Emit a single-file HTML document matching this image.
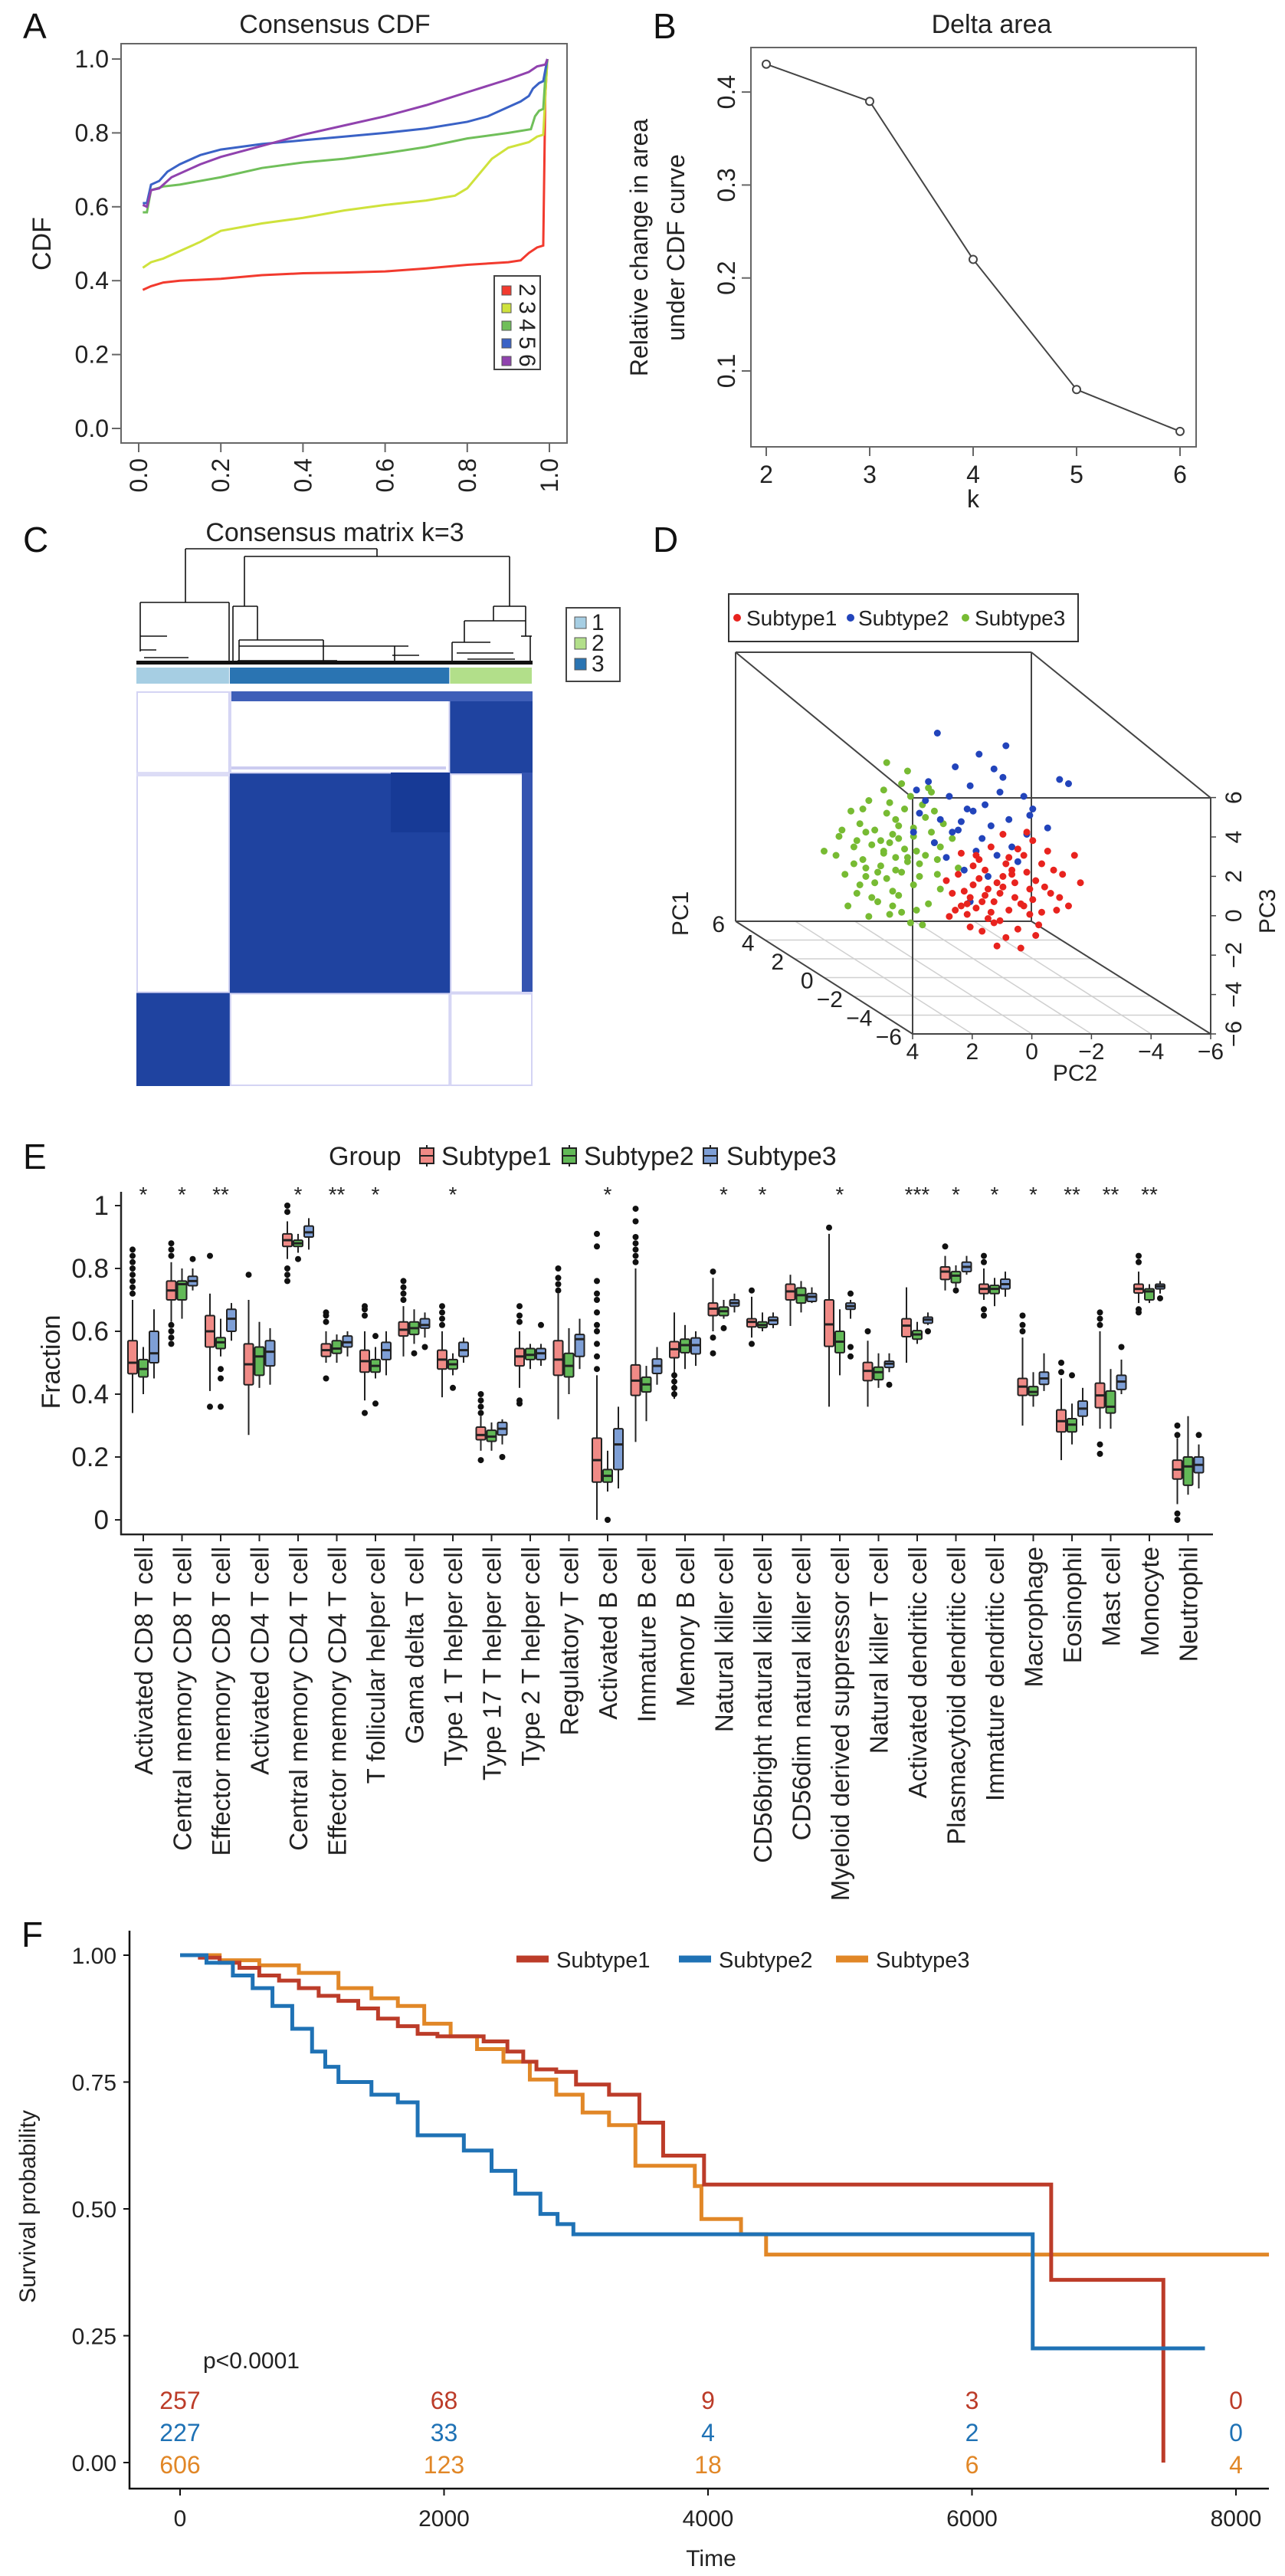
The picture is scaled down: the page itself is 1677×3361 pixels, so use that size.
<!DOCTYPE html>
<html><head><meta charset="utf-8">
<style>
html,body{margin:0;padding:0;background:#fff}
svg{display:block;font-family:"Liberation Sans",sans-serif}
</style></head>
<body>
<svg id="fig" width="1677" height="3361" viewBox="0 0 1677 3361" xmlns="http://www.w3.org/2000/svg">
<rect x="0" y="0" width="1677" height="3361" fill="#fff"/>
<g font-size="46" fill="#111">
<text x="30" y="50">A</text>
<text x="852" y="50">B</text>
<text x="30" y="720">C</text>
<text x="852" y="720">D</text>
<text x="30" y="1525">E</text>
<text x="28" y="2540">F</text>
</g>
<g id="pa">
<text x="437" y="43" font-size="34" text-anchor="middle" fill="#222">Consensus CDF</text>
<text transform="translate(66,318) rotate(-90)" font-size="34" text-anchor="middle" fill="#222">CDF</text>
<rect x="158" y="57" width="582" height="521" fill="none" stroke="#666" stroke-width="2"/>
</g>
<g id="pb">
<text x="1294" y="43" font-size="34" text-anchor="middle" fill="#222">Delta area</text>
<text transform="translate(845,323) rotate(-90)" font-size="32" text-anchor="middle" fill="#222">Relative change in area</text>
<text transform="translate(893,323) rotate(-90)" font-size="32" text-anchor="middle" fill="#222">under CDF curve</text>
<text x="1270" y="662" font-size="32" text-anchor="middle" fill="#222">k</text>
<rect x="980" y="62" width="581" height="521" fill="none" stroke="#666" stroke-width="2"/>
</g>
<g id="pc">
<text x="437" y="706" font-size="34" text-anchor="middle" fill="#222">Consensus matrix k=3</text>
<rect x="739" y="793" width="70" height="96" fill="#fff" stroke="#444" stroke-width="2"/>
</g>
<g id="pd">
<rect x="951" y="775" width="456" height="62" fill="#fff" stroke="#333" stroke-width="2"/>
<circle cx="962" cy="806" r="5" fill="#e8231e"/>
<text x="974" y="816" font-size="28" fill="#222">Subtype1</text>
<circle cx="1110" cy="806" r="5" fill="#2244bb"/>
<text x="1120" y="816" font-size="28" fill="#222">Subtype2</text>
<circle cx="1260" cy="806" r="5" fill="#77bb33"/>
<text x="1272" y="816" font-size="28" fill="#222">Subtype3</text>
<text x="1403" y="1410" font-size="30" text-anchor="middle" fill="#222">PC2</text>
<text transform="translate(898,1192) rotate(-90)" font-size="30" text-anchor="middle" fill="#222">PC1</text>
<text transform="translate(1664,1189) rotate(-90)" font-size="30" text-anchor="middle" fill="#222">PC3</text>
</g>
<g id="pe">
<text transform="translate(78,1777) rotate(-90)" font-size="34" text-anchor="middle" fill="#222">Fraction</text>
<text x="429" y="1520" font-size="34" fill="#222">Group</text>
</g>
<g id="pf">
<text transform="translate(46,2879) rotate(-90)" font-size="30" text-anchor="middle" fill="#222">Survival probability</text>
<text x="928" y="3348" font-size="30" text-anchor="middle" fill="#222">Time</text>
<text x="265" y="3090" font-size="30" fill="#222">p&lt;0.0001</text>
</g>
</svg>
<script>
// ---------- Panel A data ----------
const cdfK2X=[0.01,0.03,0.06,0.1,0.2,0.3,0.4,0.5,0.6,0.7,0.8,0.9,0.93,0.95,0.97,0.985,0.99,0.995];
const cdfK2Y=[0.375,0.385,0.395,0.40,0.405,0.415,0.42,0.422,0.425,0.433,0.443,0.45,0.455,0.475,0.49,0.495,0.9,1.0];
const cdfK3X=[0.01,0.03,0.06,0.1,0.15,0.2,0.3,0.4,0.5,0.6,0.7,0.77,0.8,0.83,0.86,0.9,0.95,0.97,0.985,0.99,0.995];
const cdfK3Y=[0.435,0.45,0.46,0.48,0.505,0.535,0.555,0.57,0.59,0.605,0.617,0.63,0.65,0.69,0.73,0.76,0.775,0.79,0.795,0.9,1.0];
const cdfK4X=[0.01,0.02,0.03,0.06,0.1,0.2,0.3,0.4,0.5,0.6,0.7,0.8,0.9,0.955,0.965,0.975,0.985,0.99,0.995];
const cdfK4Y=[0.585,0.585,0.645,0.655,0.66,0.68,0.705,0.72,0.73,0.745,0.762,0.785,0.80,0.81,0.845,0.86,0.865,0.95,1.0];
const cdfK5X=[0.01,0.02,0.03,0.05,0.07,0.1,0.15,0.2,0.3,0.4,0.5,0.6,0.7,0.8,0.85,0.9,0.93,0.95,0.96,0.975,0.985,0.995];
const cdfK5Y=[0.61,0.61,0.66,0.67,0.695,0.715,0.74,0.755,0.77,0.78,0.79,0.80,0.812,0.83,0.845,0.87,0.885,0.9,0.92,0.935,0.94,1.0];
const cdfK6X=[0.01,0.02,0.03,0.05,0.08,0.15,0.2,0.3,0.4,0.5,0.6,0.7,0.8,0.9,0.95,0.97,0.99,0.995];
const cdfK6Y=[0.605,0.6,0.645,0.65,0.68,0.715,0.735,0.765,0.795,0.82,0.845,0.875,0.91,0.945,0.965,0.98,0.985,1.0];
const aTicks=[0,0.2,0.4,0.6,0.8,1.0];
const aTickLabels=['0.0','0.2','0.4','0.6','0.8','1.0'];
const aLegendLabels=['2','3','4','5','6'];
// ---------- Panel B data ----------
const deltaK=[2,3,4,5,6];
const deltaArea=[0.43,0.39,0.22,0.08,0.035];
const bYTicks=[0.1,0.2,0.3,0.4];
const bYTickLabels=['0.1','0.2','0.3','0.4'];
// ---------- Panel C data ----------
const clusterSizes=[257,606,227];
const clusterColNames=['1','3','2'];
const clusterRowOrder=[2,1,0];
const cLegendLabels=['1','2','3'];
// ---------- Panel D data ----------
const s1Pc2=[-1.5,-2.3,-0.8,-3.1,-1.9,-0.5,-2.7,-1.2,-3.6,-2.0,-0.9,-2.5,-1.6,-3.3,-0.3,-2.1,-1.0,-2.9,-4.0,-1.4,-2.4,-0.6,-3.0,-1.8,-2.6,-1.1,-3.8,-0.2,-2.2,-1.7,-3.4,-0.7,-2.8,-1.3,-2.0,-4.4,-1.9,-0.4,-3.2,-2.4,-1.0,-2.7,-1.5,-3.7,-0.9,-2.2,-1.2,-3.0,-4.2,-1.6,-2.5,-0.1,-2.9,-1.8,-3.5,-1.4,-2.3,-0.8,-2.6,-4.6,-1.1,-3.3,-2.0,-0.6,-2.8,-1.7,-3.9,-2.1,-1.3,-3.1];
const s1Pc3=[-1.8,-0.9,-2.5,-1.4,-3.3,-1.1,-2.6,-0.4,-2.0,-1.2,-3.6,0.1,-2.9,-0.6,-2.0,-4.1,-1.6,-3.0,-1.1,-0.9,-2.2,-0.1,0.5,-1.5,-4.6,-2.7,-2.8,-3.1,-0.3,-2.4,-1.7,-1.9,-1.0,-3.8,0.8,-0.2,-2.0,-2.8,-3.5,-1.5,-0.7,-0.2,-3.2,-0.9,-2.2,-2.8,-1.3,-2.3,-2.6,0.2,-3.7,-1.4,-1.8,-4.5,0.0,-2.1,-1.1,-3.0,-2.5,-1.5,-0.2,-2.9,-1.7,-2.6,0.9,-3.4,-2.2,-0.6,-2.4,-4.0];
const s2Pc2=[-0.5,-1.4,0.3,-2.2,-0.9,0.8,-1.8,-0.2,-2.8,-1.1,0.5,-1.6,-0.7,-3.0,0.1,-2.0,-1.3,1.0,-0.4,-2.5,-1.0,0.6,-3.5,-1.9,-0.1,-2.3,-0.8,-1.5,0.9,-2.7,-0.3,-1.2,-4.2,-3.9,-0.6,0.2,-2.1,-1.7,-0.9,-2.9];
const s2Pc3=[1.0,2.2,0.4,1.5,3.1,1.8,-0.2,2.6,0.8,0.0,3.3,1.2,-0.9,2.0,1.5,3.5,0.6,0.9,4.0,-0.5,1.9,2.4,1.1,2.8,-0.3,0.2,2.0,-1.2,2.9,2.6,0.9,4.6,3.2,3.4,1.4,5.6,5.0,3.9,-2.4,1.7];
const s3Pc2=[1.2,2.1,0.8,1.9,2.6,0.4,1.5,3.0,1.1,2.3,0.2,1.7,2.8,0.9,1.4,2.0,0.6,3.3,1.8,2.5,0.1,1.3,2.2,0.7,3.5,1.6,2.9,0.3,1.0,2.4,1.9,0.5,2.7,1.2,3.1,0.0,1.5,2.0,0.8,1.7,2.6,3.6,1.1,0.4,2.3,1.4,0.9,2.8,1.6,0.2,2.1,3.2,1.0,1.8,2.5,0.6,1.3,2.9,-0.3,1.9,2.2,0.7,1.5,3.4,1.2,2.4,0.3,1.7,2.7,1.0,4.0,-0.5,1.6,2.0,0.5,2.6,1.4,3.0,1.8,0.1];
const s3Pc3=[-0.3,0.5,-1.2,1.8,-0.8,0.9,-2.1,0.2,2.6,-1.5,-0.4,0.8,1.3,-2.8,3.2,-0.1,1.6,-1.1,-3.0,2.4,-1.8,0.1,-2.4,2.2,0.7,-0.9,-2.0,0.4,1.1,0.3,-1.3,-2.5,-0.4,3.8,1.9,1.3,0.6,2.9,-0.6,-1.9,0.9,-0.2,-3.4,2.8,1.0,-1.0,0.0,-1.6,1.5,-1.1,-0.7,-2.6,-1.6,0.4,-3.1,-0.2,2.0,0.5,0.6,4.2,-1.0,-3.5,1.2,1.0,-0.5,-2.2,1.9,-2.6,2.0,0.7,0.0,-0.8,-0.3,0.0,3.0,-1.2,-2.9,-0.6,2.3,0.2];
const pc2Ticks=[4,2,0,-2,-4,-6];
const pc3Ticks=[6,4,2,0,-2,-4,-6];
const pc1Ticks=[6,4,2,0,-2,-4,-6];
// ---------- Panel E data ----------
const cellTypes=['Activated CD8 T cell','Central memory CD8 T cell','Effector memory CD8 T cell','Activated CD4 T cell','Central memory CD4 T cell','Effector memory CD4 T cell','T follicular helper cell','Gama delta T cell','Type 1 T helper cell','Type 17 T helper cell','Type 2 T helper cell','Regulatory T cell','Activated B cell','Immature B cell','Memory B cell','Natural killer cell','CD56bright natural killer cell','CD56dim natural killer cell','Myeloid derived suppressor cell','Natural killer T cell','Activated dendritic cell','Plasmacytoid dendritic cell','Immature dendritic cell','Macrophage','Eosinophil','Mast cell','Monocyte','Neutrophil'];
const s1Med=[.50,.73,.60,.495,.89,.54,.505,.605,.51,.27,.52,.51,.19,.443,.543,.672,.63,.727,.622,.474,.618,.79,.735,.424,.314,.396,.735,.16];
const s1Q1=[.465,.70,.55,.43,.87,.52,.47,.585,.48,.255,.49,.46,.12,.396,.516,.65,.614,.70,.552,.443,.583,.765,.72,.396,.28,.357,.722,.13];
const s1Q3=[.57,.76,.65,.56,.91,.56,.54,.63,.54,.295,.545,.57,.26,.493,.567,.69,.64,.75,.70,.501,.64,.805,.75,.45,.35,.435,.75,.19];
const s1Lo=[.34,.63,.41,.27,.83,.50,.38,.52,.39,.22,.42,.32,.0,.248,.385,.60,.58,.617,.36,.36,.50,.73,.70,.30,.19,.29,.69,.05];
const s1Hi=[.70,.82,.72,.70,.95,.60,.60,.68,.60,.33,.60,.72,.46,.80,.66,.77,.71,.78,.91,.57,.74,.84,.80,.58,.45,.60,.79,.26];
const s2Med=[.48,.75,.565,.52,.88,.545,.49,.61,.495,.265,.525,.49,.14,.431,.556,.664,.62,.715,.567,.47,.59,.777,.735,.407,.303,.36,.727,.17];
const s2Q1=[.455,.70,.545,.46,.87,.53,.47,.59,.48,.25,.51,.455,.12,.407,.532,.65,.612,.69,.532,.446,.575,.755,.72,.396,.28,.34,.70,.11];
const s2Q3=[.51,.76,.58,.55,.89,.57,.51,.63,.51,.285,.545,.53,.16,.454,.575,.677,.63,.738,.60,.486,.602,.79,.746,.424,.322,.41,.735,.20];
const s2Lo=[.40,.64,.52,.42,.85,.50,.45,.56,.46,.22,.48,.40,.09,.314,.48,.64,.60,.66,.46,.42,.56,.74,.68,.36,.24,.29,.69,.08];
const s2Hi=[.55,.80,.64,.63,.91,.59,.55,.67,.53,.31,.56,.61,.22,.49,.62,.70,.66,.76,.67,.53,.63,.81,.77,.47,.37,.48,.75,.33];
const s3Med=[.53,.76,.64,.535,.915,.565,.54,.62,.54,.29,.53,.575,.24,.49,.556,.69,.635,.71,.68,.497,.637,.805,.75,.45,.354,.44,.743,.175];
const s3Q1=[.50,.745,.60,.49,.90,.55,.51,.61,.52,.27,.51,.52,.16,.466,.528,.68,.622,.695,.67,.485,.626,.79,.735,.431,.33,.415,.735,.15];
const s3Q3=[.60,.775,.67,.57,.935,.585,.565,.64,.565,.31,.545,.59,.29,.512,.579,.70,.645,.72,.69,.505,.645,.82,.766,.47,.378,.46,.75,.20];
const s3Lo=[.45,.73,.57,.43,.86,.52,.46,.58,.50,.24,.49,.48,.10,.43,.49,.66,.61,.69,.64,.47,.62,.78,.71,.41,.30,.40,.72,.10];
const s3Hi=[.67,.80,.69,.61,.96,.60,.60,.66,.58,.32,.56,.64,.36,.55,.60,.72,.66,.74,.70,.53,.66,.84,.79,.53,.42,.51,.76,.24];
const s1Out=[[.72,.74,.76,.78,.80,.82,.84,.86],[.56,.58,.60,.62,.84,.86,.88],[.36,.84],[.78],[.76,.78,.80,.98,1.0],[.45,.63,.65,.66],[.34,.65,.67,.68],[.70,.72,.74,.76],[.62,.64,.66,.68],[.19,.34,.36,.38,.40],[.37,.38,.63,.65,.68],[.73,.75,.77,.80],[.48,.52,.56,.60,.62,.66,.70,.72,.76,.87,.91],[.82,.84,.86,.88,.90,.95,.99],[.40,.42,.44,.46],[.53,.58,.79],[.56,.73],[],[.93],[.60],[],[.87],[.65,.67,.82,.84],[.60,.62,.65],[.47,.50],[.21,.24,.62,.64,.66],[.66,.67,.82,.84],[.0,.02,.27,.30]];
const s2Out=[[],[],[.36,.45,.48],[],[.83],[],[.37,.585],[.53],[.42],[],[],[],[.0],[],[],[.61],[],[],[],[],[],[.73],[],[],[.46],[],[],[]];
const s3Out=[[],[.83],[],[],[],[],[],[.55],[],[.20],[.62],[],[],[],[],[],[],[],[.72,.55,.52],[.43],[.60],[],[],[],[],[.55],[.705],[.27]];
const eStars=['*','*','**','','*','**','*','','*','','','','*','','','*','*','','*','','***','*','*','*','**','**','**',''];
const eYTicks=[0,0.2,0.4,0.6,0.8,1];
const eYTickLabels=['0','0.2','0.4','0.6','0.8','1'];
const subtypeNames=['Subtype1','Subtype2','Subtype3'];
// ---------- Panel F data ----------
const kmS1Time=[0,150,300,450,600,750,900,1050,1200,1350,1500,1650,1800,1950,2300,2480,2600,2700,2850,3000,3250,3480,3660,3970,6600,7450];
const kmS1Surv=[1,.995,.985,.975,.96,.95,.935,.92,.91,.895,.875,.86,.845,.84,.83,.81,.79,.775,.77,.745,.725,.67,.605,.548,.36,0];
const kmS1End=7450;
const kmS2Time=[0,200,400,550,700,850,1000,1100,1200,1450,1650,1800,2150,2360,2540,2730,2860,2980,6460];
const kmS2Surv=[1,.985,.96,.935,.9,.855,.81,.78,.75,.725,.71,.645,.615,.575,.53,.49,.47,.45,.225];
const kmS2End=7765;
const kmS3Time=[0,300,600,900,1200,1450,1650,1850,2050,2250,2450,2650,2850,3050,3250,3450,3900,3950,4250,4440];
const kmS3Surv=[1,.99,.98,.965,.935,.915,.9,.865,.84,.815,.79,.755,.725,.69,.665,.585,.545,.48,.45,.41];
const kmS3End=8250;
const riskTimes=[0,2000,4000,6000,8000];
const riskS1=[257,68,9,3,0];
const riskS2=[227,33,4,2,0];
const riskS3=[606,123,18,6,4];
const fXTicks=[0,2000,4000,6000,8000];
const fYTicks=[0,0.25,0.5,0.75,1];
const fYTickLabels=['0.00','0.25','0.50','0.75','1.00'];

const NS='http://www.w3.org/2000/svg';
function mk(parent,tag,attrs,text){const e=document.createElementNS(NS,tag);for(const k in attrs)e.setAttribute(k,attrs[k]);if(text!=null)e.textContent=text;parent.appendChild(e);return e;}

// ===== Panel A =====
(function(){
const g=document.getElementById('pa');
const ax=v=>181+v*536, ay=v=>559-v*482;
aTicks.forEach((t,i)=>{
 const tk=mk(g,'line',{x1:ax(t),x2:ax(t),y1:578,y2:590,stroke:'#666','stroke-width':2});
 
 
 const lb=mk(g,'text',{transform:`translate(${ax(t)+11},598) rotate(-90)`,'font-size':32,'text-anchor':'end',fill:'#222'},aTickLabels[i]);
 
 
 const ty=mk(g,'line',{x1:146,x2:158,y1:ay(t),y2:ay(t),stroke:'#666','stroke-width':2});
 
 
 const ly=mk(g,'text',{x:142,y:ay(t)+11,'font-size':32,'text-anchor':'end',fill:'#222'},aTickLabels[i]);
 
 
});
const series=[[cdfK2X,cdfK2Y,'#f23a2e'],[cdfK3X,cdfK3Y,'#cfe23c'],[cdfK4X,cdfK4Y,'#70bf5a'],[cdfK5X,cdfK5Y,'#3a62c6'],[cdfK6X,cdfK6Y,'#9042ae']];
series.forEach((s,i)=>{
 const pts=s[0].map((x,j)=>ax(x)+','+ay(s[1][j])).join(' ');
 const pl=mk(g,'polyline',{points:pts,fill:'none',stroke:s[2],'stroke-width':3});
 
 
});
const lg=mk(g,'rect',{x:645,y:360,width:60,height:122,fill:'#fff',stroke:'#444','stroke-width':2});


series.forEach((s,i)=>{
 const sq=mk(g,'rect',{x:655,y:373+i*23,width:12,height:12,fill:s[2],stroke:'#555','stroke-width':1});
 
 
 const t=mk(g,'text',{transform:`translate(678,${370+i*23}) rotate(90)`,'font-size':30,fill:'#222'},aLegendLabels[i]);
 
 
});
})();

// ===== Panel B =====
(function(){
const g=document.getElementById('pb');
const bx=k=>1000+(k-2)*135, by=v=>484-(v-0.1)*1213;
deltaK.forEach(k=>{
 const tk=mk(g,'line',{x1:bx(k),x2:bx(k),y1:583,y2:595,stroke:'#666','stroke-width':2});
 
 
 const lb=mk(g,'text',{x:bx(k),y:630,'font-size':32,'text-anchor':'middle',fill:'#222'},String(k));
 
 
});
bYTicks.forEach((v,i)=>{
 const tk=mk(g,'line',{x1:968,x2:980,y1:by(v),y2:by(v),stroke:'#666','stroke-width':2});
 
 
 const lb=mk(g,'text',{transform:`translate(959,${by(v)}) rotate(-90)`,'font-size':32,'text-anchor':'middle',fill:'#222'},bYTickLabels[i]);
 
 
});
const pl=mk(g,'polyline',{points:deltaK.map((k,i)=>bx(k)+','+by(deltaArea[i])).join(' '),fill:'none',stroke:'#444','stroke-width':2});


deltaK.forEach((k,i)=>{
 const c=mk(g,'circle',{cx:bx(k),cy:by(deltaArea[i]),r:5,fill:'#fff',stroke:'#444','stroke-width':2});
 
 
});
})();

// ===== Panel C =====
(function(){
const g=document.getElementById('pc');
const X0=178,W=517,Y0=902,H=515,total=clusterSizes.reduce((a,b)=>a+b,0);
const colStart=[];let acc=0;clusterSizes.forEach(s=>{colStart.push(acc);acc+=s;});
const cx=n=>X0+n/total*W, cy=n=>Y0+n/total*H;
const barCols=['#a6cee3','#2a74b2','#b2df8a'];
const dend=[[242,716,492,716],[242,716,242,786],[492,716,492,726],[183,786,299,786],[319,726,665,726],[319,726,319,791],[665,726,665,791],[304,791,336,791],[644,791,686,791],[644,791,644,810],[686,791,686,830],[606,810,686,810],[606,810,606,838],[336,791,336,835],[304,791,304,866],[183,786,183,850],[299,786,299,866],[183,830,218,830],[183,848,204,848],[188,858,246,858],[312,835,422,835],[312,835,312,866],[422,835,422,866],[312,843,533,843],[515,843,515,866],[512,855,547,855],[310,862,440,862],[590,838,640,838],[590,838,590,866],[596,852,670,852],[610,860,672,860],[680,830,694,830],[692,830,692,866]];
dend.forEach(d=>{
 const l=mk(g,'line',{x1:d[0],y1:d[1],x2:d[2],y2:d[3],stroke:'#111','stroke-width':1.6});
 
 
});
const dense=mk(g,'rect',{x:178,y:862,width:517,height:5,fill:'#111'});


clusterSizes.forEach((s,i)=>{
 const r=mk(g,'rect',{x:cx(colStart[i]),y:871,width:cx(colStart[i]+s)-cx(colStart[i])-1,height:21,fill:barCols[i]});
 
 
});
let rowAcc=0;
clusterRowOrder.forEach(ci=>{
 const s=clusterSizes[ci];
 const y=cy(rowAcc),h=cy(rowAcc+s)-cy(rowAcc);
 clusterSizes.forEach((s2,cj)=>{
  const x=cx(colStart[cj]),w=cx(colStart[cj]+s2)-x;
  if(ci===cj){
   const r=mk(g,'rect',{x:x,y:y,width:w,height:h,fill:'#1f43a0'});
   
   
  } else {
   const r=mk(g,'rect',{x:x+1,y:y+1,width:w-2,height:h-2,fill:'none',stroke:'#d4d4f4','stroke-width':2});
   
   
  }
 });
 rowAcc+=s;
});
const extras=[[302,902,393,13,'#3f5fb8'],[681,1008,14,286,'#3554b0'],[510,1008,77,78,'#173a96'],[178,1008,122,5,'#dcdcf6'],[302,1000,280,4,'#ccccf0']];
extras.forEach(e=>{
 const r=mk(g,'rect',{x:e[0],y:e[1],width:e[2],height:e[3],fill:e[4]});
 
 
});
cLegendLabels.forEach((l,i)=>{
 const sq=mk(g,'rect',{x:750,y:805+i*27,width:15,height:15,fill:[barCols[0],barCols[2],barCols[1]][i],stroke:'#555','stroke-width':1});
 
 
 const t=mk(g,'text',{x:772,y:822+i*27,'font-size':30,fill:'#222'},l);
 
 
});
})();

// ===== Panel D =====
(function(){
const g=document.getElementById('pd');
const edges=[[960,851,1346,851],[960,851,960,1202],[1346,851,1346,1202],[960,1202,1346,1202],[960,851,1191,1041],[1346,851,1580,1041],[960,1202,1191,1349],[1346,1202,1580,1349],[1191,1041,1580,1041],[1191,1041,1191,1349],[1191,1349,1580,1349],[1580,1041,1580,1349]];
pc1Ticks.slice(1,6).forEach(p=>{
 const d=(6-p)/12;
 const l=mk(g,'line',{x1:960+231*d,y1:1202+147*d,x2:1346+231*d,y2:1202+147*d,stroke:'#d0d0d0','stroke-width':1.5});
 
 
});
pc2Ticks.slice(1,5).forEach(q=>{
 const fx=1191+(4-q)*38.9;
 const l=mk(g,'line',{x1:fx,y1:1349,x2:fx-231,y2:1202,stroke:'#d0d0d0','stroke-width':1.5});
 
 
});
edges.forEach(e=>{
 const l=mk(g,'line',{x1:e[0],y1:e[1],x2:e[2],y2:e[3],stroke:'#444','stroke-width':2});
 
 
});
const px=q=>1191+(4-q)*38.9-115.5, py=r=>1349-(r+6)*27.5-73.5;
[[s3Pc2,s3Pc3,'#77bb33','subtype3'],[s2Pc2,s2Pc3,'#2244bb','subtype2'],[s1Pc2,s1Pc3,'#e8231e','subtype1']].forEach(s=>{
 s[0].forEach((q,i)=>{
  const c=mk(g,'circle',{cx:px(q),cy:py(s[1][i]),r:4.5,fill:s[2]});
  
  
 });
});
pc2Ticks.forEach(q=>{
 const x=1191+(4-q)*38.9;
 const t=mk(g,'text',{x:x,y:1382,'font-size':30,'text-anchor':'middle',fill:'#222'},q<0?'\u2212'+(-q):String(q));
 
 
 const tk=mk(g,'line',{x1:x,x2:x,y1:1349,y2:1356,stroke:'#444','stroke-width':1.5});
 
 
});
pc3Ticks.forEach(r=>{
 const y=1349-(r+6)*25.7;
 const t=mk(g,'text',{transform:`translate(1620,${y}) rotate(-90)`,'font-size':30,'text-anchor':'middle',fill:'#222'},r<0?'\u2212'+(-r):String(r));
 
 
 const tk=mk(g,'line',{x1:1580,x2:1587,y1:y,y2:y,stroke:'#444','stroke-width':1.5});
 
 
});
pc1Ticks.forEach(p=>{
 const d=(6-p)/12;
 const t=mk(g,'text',{x:960+231*d-14,y:1202+147*d+14,'font-size':30,'text-anchor':'end',fill:'#222'},p<0?'\u2212'+(-p):String(p));
 
 
});
})();

// ===== Panel E =====
(function(){
const g=document.getElementById('pe');
const ex=i=>187+i*50.5, ey=v=>1983-v*410;
const cols=['#f08a86','#62b957','#7e9fd6'];
const offs=[-14,0,14];
const ax=mk(g,'line',{x1:158,x2:158,y1:1555,y2:2003,stroke:'#222','stroke-width':2.5});


const axx=mk(g,'line',{x1:157,x2:1583,y1:2002,y2:2002,stroke:'#222','stroke-width':2.5});


eYTicks.forEach((v,i)=>{
 const tk=mk(g,'line',{x1:150,x2:158,y1:ey(v),y2:ey(v),stroke:'#222','stroke-width':2});
 
 
 const t=mk(g,'text',{x:142,y:ey(v)+12,'font-size':35,'text-anchor':'end',fill:'#222'},eYTickLabels[i]);
 
 
});
const data=[[s1Med,s1Q1,s1Q3,s1Lo,s1Hi,s1Out],[s2Med,s2Q1,s2Q3,s2Lo,s2Hi,s2Out],[s3Med,s3Q1,s3Q3,s3Lo,s3Hi,s3Out]];
cellTypes.forEach((name,i)=>{
 const tk=mk(g,'line',{x1:ex(i),x2:ex(i),y1:2002,y2:2011,stroke:'#222','stroke-width':2});
 
 
 const t=mk(g,'text',{transform:`translate(${ex(i)+12},2018) rotate(-90)`,'font-size':33,'text-anchor':'end',fill:'#222'},name);
 
 
 if(eStars[i]){
  const st=mk(g,'text',{x:ex(i),y:1568,'font-size':28,'text-anchor':'middle',fill:'#222'},eStars[i]);
  
  
 }
 data.forEach((d,k)=>{
  const x=ex(i)+offs[k];
  const w=mk(g,'line',{x1:x,x2:x,y1:ey(d[4][i]),y2:ey(d[3][i]),stroke:'#222','stroke-width':2});
  
  
  const b=mk(g,'rect',{x:x-6,y:ey(d[2][i]),width:12,height:ey(d[1][i])-ey(d[2][i]),fill:cols[k],stroke:'#222','stroke-width':2,rx:1.5});
  
  
  const m=mk(g,'line',{x1:x-6,x2:x+6,y1:ey(d[0][i]),y2:ey(d[0][i]),stroke:'#222','stroke-width':3});
  
  
  d[5][i].forEach(o=>{
   const c=mk(g,'circle',{cx:x,cy:ey(o),r:4,fill:'#111'});
   
   
  });
 });
});
const keyX=[548,734,918], txtX=[576,762,948];
subtypeNames.forEach((n,k)=>{
 const l=mk(g,'line',{x1:keyX[k]+9,x2:keyX[k]+9,y1:1494,y2:1522,stroke:'#222','stroke-width':2});
 
 
 const r=mk(g,'rect',{x:keyX[k],y:1498,width:18,height:20,fill:cols[k],stroke:'#222','stroke-width':2});
 
 
 const m=mk(g,'line',{x1:keyX[k],x2:keyX[k]+18,y1:1508,y2:1508,stroke:'#222','stroke-width':2});
 
 
 const t=mk(g,'text',{x:txtX[k],y:1520,'font-size':34,fill:'#222'},n);
 
 
});
})();

// ===== Panel F =====
(function(){
const g=document.getElementById('pf');
const fx=t=>235+t*0.17225, fy=s=>3213-s*662;
const cols=['#bc3c29','#1f72b5','#e18727'];
const ya=mk(g,'line',{x1:169,x2:169,y1:2519,y2:3248,stroke:'#111','stroke-width':2.5});


const xa=mk(g,'line',{x1:168,x2:1656,y1:3247,y2:3247,stroke:'#111','stroke-width':2.5});


fYTicks.forEach((v,i)=>{
 const tk=mk(g,'line',{x1:161,x2:169,y1:fy(v),y2:fy(v),stroke:'#111','stroke-width':2});
 
 
 const t=mk(g,'text',{x:152,y:fy(v)+11,'font-size':30,'text-anchor':'end',fill:'#222'},fYTickLabels[i]);
 
 
});
fXTicks.forEach(v=>{
 const tk=mk(g,'line',{x1:fx(v),x2:fx(v),y1:3247,y2:3256,stroke:'#111','stroke-width':2});
 
 
 const t=mk(g,'text',{x:fx(v),y:3296,'font-size':30,'text-anchor':'middle',fill:'#222'},String(v));
 
 
});
const curves=[[kmS1Time,kmS1Surv,kmS1End],[kmS2Time,kmS2Surv,kmS2End],[kmS3Time,kmS3Surv,kmS3End]];
[2,0,1].forEach(k=>{
 const c=curves[k];
 let d='M'+fx(c[0][0])+','+fy(c[1][0]);
 for(let j=1;j<c[0].length;j++){d+=' H'+fx(c[0][j])+' V'+fy(c[1][j]);}
 d+=' H'+fx(c[2]);
 const p=mk(g,'path',{d:d,fill:'none',stroke:cols[k],'stroke-width':5});
 
 
});
const rows=[riskS1,riskS2,riskS3], rowY=[3143,3185,3227];
rows.forEach((r,k)=>{
 r.forEach((n,j)=>{
  const t=mk(g,'text',{x:fx(riskTimes[j]),y:rowY[k],'font-size':32,'text-anchor':'middle',fill:cols[k]},String(n));
  
  
 });
});
const keyX=[674,886,1091];
subtypeNames.forEach((n,k)=>{
 const l=mk(g,'line',{x1:keyX[k],x2:keyX[k]+42,y1:2556,y2:2556,stroke:cols[k],'stroke-width':9});
 
 
 const t=mk(g,'text',{x:keyX[k]+52,y:2567,'font-size':29,fill:'#222'},n);
 
 
});
})();
</script>
</body></html>
